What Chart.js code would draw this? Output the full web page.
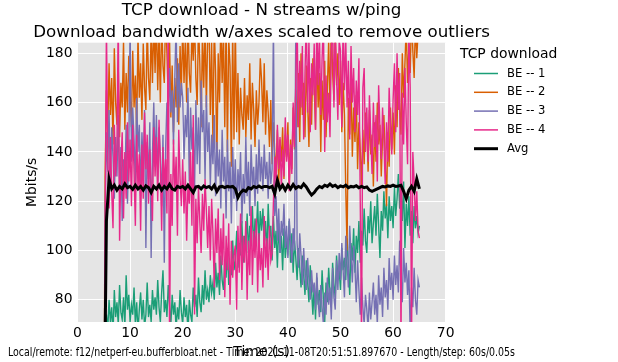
<!DOCTYPE html>
<html>
<head>
<meta charset="utf-8">
<script src="https://cdn.jsdelivr.net/npm/chart.js@4/dist/chart.umd.min.js"></script>
<style>
  body { margin: 0; background: #fff; }
</style>
</head>
<body>
<canvas id="tcpChart" width="618" height="362"></canvas>
<script>
const startTime = 5.0;
const streamStep = 0.25;
const avgStep = 0.5;

const seriesLabels = ["BE -- 1", "BE -- 2", "BE -- 3", "BE -- 4", "Avg"];
const seriesColors = ["#1b9e77", "#d95f02", "#7570b3", "#e7298a", "#000000"];

// Mbits/s per stream, one row = 5 s
const be1 = [
  0, 45, 74, 68, 80, 71, 77, 66, 84, 73, 79, 70, 86, 75, 72, 81, 69, 90, 76, 82,
  71, 78, 74, 85, 70, 79, 67, 76, 83, 72, 80, 69, 74, 87, 73, 78, 71, 84, 76, 81,
  74, 88, 77, 71, 83, 92, 75, 80, 73, 86, 78, 70, 82, 74, 79, 68, 77, 72, 84, 75,
  70, 81, 73, 78, 66, 80, 74, 71, 85, 77, 82, 73, 89, 79, 75, 86, 78, 92, 80, 84,
  79, 90, 83, 87, 80, 95, 85, 91, 82, 98, 88, 84, 96, 89, 101, 86, 94, 90, 104, 92,
  96, 108, 93, 103, 98, 112, 95, 106, 101, 115, 99, 110, 104, 118, 100, 113, 107, 120, 102, 116,
  108, 117, 103, 112, 98, 119, 105, 110, 96, 114, 101, 108, 93, 111, 99, 106, 92, 109, 97, 103,
  100, 112, 95, 107, 91, 104, 97, 88, 101, 93, 85, 98, 90, 82, 96, 87, 79, 94, 84, 74,
  86, 72, 89, 78, 84, 75, 92, 80, 71, 87, 79, 93, 83, 77, 95, 86, 81, 98, 88, 92,
  84, 101, 92, 97, 88, 105, 94, 82, 103, 96, 109, 91, 106, 99, 112, 95, 108, 102, 117, 104,
  99, 114, 107, 120, 103, 111, 118, 106, 123, 110, 97, 116, 108, 124, 113, 119, 105, 122, 112, 118,
  109, 126, 114, 121, 131, 117, 125, 112, 128, 101, 119, 110, 122, 106, 116, 103, 118, 109, 114, 107,
  110
];
const be2 = [
  0, 130, 165, 148, 176, 155, 170, 143, 182, 160, 151, 174, 146, 168, 158, 185, 149, 172, 156, 179,
  163, 150, 181, 158, 171, 147, 188, 162, 176, 153, 184, 166, 157, 192, 170, 161, 190, 168, 194, 172,
  196, 165, 189, 160, 194, 175, 168, 197, 180, 162, 186, 154, 175, 148, 170, 158, 178, 151, 183, 163,
  192, 168, 186, 160, 195, 172, 164, 190, 177, 194, 170, 159, 193, 176, 150, 188, 166, 193, 158, 187,
  194, 155, 185, 143, 192, 172, 136, 180, 160, 195, 168, 189, 150, 193, 140, 186, 175, 134, 190, 145,
  193, 148, 172, 143, 166, 155, 149, 170, 146, 163, 153, 176, 145, 168, 157, 142, 165, 151, 160, 178,
  169, 152, 176, 147, 165, 156, 142, 161, 135, 152, 140, 131, 149, 127, 145, 136, 150, 129, 147, 138,
  152, 126, 145, 133, 158, 141, 165, 150, 172, 144, 180, 155, 168, 146, 175, 160, 142, 170, 151, 178,
  166, 149, 182, 158, 172, 140, 169, 153, 177, 146, 165, 185, 157, 194, 172, 161, 189, 167, 180, 159,
  177, 148, 168, 155, 125, 100, 162, 147, 170, 138, 158, 144, 163, 133, 152, 141, 126, 149, 135, 156,
  150, 132, 157, 139, 147, 126, 152, 136, 160, 143, 151, 130, 146, 155, 137, 118, 148, 134, 158, 141,
  156, 139, 167, 150, 174, 158, 147, 180, 162, 176, 191, 168, 183, 172, 196, 181, 170, 193, 178, 189,
  186
];
const be3 = [
  0, 115, 148, 132, 157, 126, 150, 138, 121, 146, 130, 155, 124, 142, 112, 137, 128, 151, 119, 140,
  192, 136, 158, 145, 127, 162, 140, 151, 122, 148, 133, 157, 101, 144, 129, 152, 97, 139, 160, 134,
  155, 128, 150, 138, 118, 147, 95, 141, 160, 149, 174, 156, 165, 143, 170, 192, 152, 176, 158, 168,
  162, 137, 155, 146, 166, 128, 158, 141, 150, 124, 161, 135, 154, 131, 169, 148, 157, 129, 163, 140,
  152, 126, 147, 135, 155, 122, 144, 130, 141, 117, 149, 128, 138, 113, 145, 124, 136, 111, 142, 121,
  137, 116, 133, 124, 140, 111, 131, 119, 146, 122, 136, 114, 143, 126, 134, 118, 139, 123, 145, 128,
  138, 124, 143, 129, 136, 121, 140, 127, 133, 192, 114, 122, 104, 117, 99, 112, 106, 119, 101, 110,
  97, 113, 104, 95, 109, 100, 192, 103, 93, 107, 98, 86, 101, 90, 84, 97, 88, 80, 92, 83,
  87, 76, 91, 79, 73, 86, 77, 70, 83, 74, 89, 78, 85, 72, 93, 81, 76, 96, 84, 99,
  88, 103, 92, 81, 106, 95, 85, 110, 98, 87, 102, 93, 79, 96, 84, 74, 89, 77, 70, 82,
  76, 68, 83, 72, 79, 87, 74, 82, 70, 90, 78, 85, 73, 93, 81, 88, 76, 97, 84, 91,
  80, 98, 86, 94, 83, 104, 90, 79, 101, 87, 95, 82, 92, 66, 85, 77, 93, 80, 74, 88,
  85
];
const be4 = [
  0, 105, 192, 138, 117, 146, 124, 109, 151, 130, 142, 196, 104, 135, 148, 113, 140, 121, 152, 128,
  145, 118, 151, 132, 110, 147, 125, 139, 108, 143, 121, 156, 133, 147, 119, 141, 127, 112, 150, 130,
  146, 120, 153, 135, 108, 142, 126, 137, 115, 196, 62, 131, 110, 145, 124, 138, 106, 149, 129, 118,
  137, 115, 132, 104, 127, 119, 140, 110, 155, 74, 121, 103, 126, 112, 99, 123, 108, 129, 116, 101,
  118, 96, 121, 107, 85, 113, 99, 117, 88, 109, 94, 115, 81, 106, 92, 111, 78, 104, 89, 98,
  102, 76, 110, 91, 115, 84, 106, 95, 112, 80, 104, 90, 118, 86, 108, 97, 113, 83, 107, 92,
  101, 85, 114, 93, 105, 88, 110, 96, 99, 120, 138, 127, 151, 133, 146, 125, 141, 130, 154, 136,
  147, 124, 143, 131, 160, 142, 168, 194, 150, 177, 158, 183, 145, 172, 194, 156, 186, 148, 176, 163,
  184, 149, 195, 167, 188, 155, 178, 193, 140, 171, 152, 164, 146, 182, 194, 158, 190, 170, 153, 186,
  181, 150, 194, 165, 186, 158, 177, 145, 183, 160, 174, 148, 169, 155, 178, 121, 63, 166, 174, 140,
  158, 136, 163, 147, 131, 160, 142, 155, 128, 167, 149, 137, 158, 144, 127, 152, 136, 166, 150, 139,
  161, 176, 148, 180, 157, 172, 61, 164, 143, 174, 152, 135, 190, 166, 61, 140, 128, 112, 124, 108,
  105
];
// average of the streams, one row = 5 s
const avg = [
  15, 112, 129, 125, 126.5, 124.5, 126, 125, 127, 125.5,
  126, 124.8, 126.5, 125, 126, 124.5, 126.2, 125.5, 123.5, 126,
  125, 126.5, 124.5, 126, 125, 126.8, 125, 124.5, 126, 125.5,
  126, 125, 126.5, 125, 123.5, 125.8, 126, 125, 126.2, 125.5,
  126, 125, 126.5, 124, 125.8, 126, 125.5, 126, 125.8, 126,
  125, 121.5, 123.5, 124.5, 124, 125.5, 125, 126, 125.5, 126.2,
  125.5, 126, 126, 125.5, 126, 123, 128.5, 125, 126.5, 124.5,
  126.5, 125, 126.8, 125.2, 126, 125.5, 127, 125.8, 124, 122.5,
  123.5, 125, 126, 125.5, 126.5, 126, 127, 126, 126.5, 125.5,
  126.2, 125.8, 126.5, 125.5, 126, 125.8, 126.3, 125.5, 126, 125.5,
  125.8, 124.5, 124, 124.5, 125, 125.5, 126, 125.8, 126.2, 126,
  126.5, 126, 126.2, 126.5, 124, 121, 124.5, 126, 124, 129,
  125
];

const xTicks = [0, 10, 20, 30, 40, 50, 60, 70];
const yTicks = [80, 100, 120, 140, 160, 180];

const titleLines = ["TCP download - N streams w/ping", "Download bandwidth w/axes scaled to remove outliers"];
const legendTitle = "TCP download";
const footerText = "Local/remote: f12/netperf-eu.bufferbloat.net - Time: 2021-11-08T20:51:51.897670 - Length/step: 60s/0.05s";

const FONT = "DejaVu Sans";
Chart.defaults.font.family = FONT;
Chart.defaults.color = "#000";

function toPoints(values, step) {
  return values.map((v, i) => ({ x: startTime + i * step, y: v }));
}

// grey plot background
const plotBg = {
  id: "plotBg",
  beforeDraw(chart) {
    const a = chart.chartArea;
    const c = chart.ctx;
    c.save();
    c.fillStyle = "#e5e5e5";
    c.fillRect(a.left, a.top, a.right - a.left, a.bottom - a.top);
    c.restore();
  }
};

// two-line title centred over the plot area
const plotTitle = {
  id: "plotTitle",
  afterDraw(chart) {
    const a = chart.chartArea;
    const c = chart.ctx;
    c.save();
    c.fillStyle = "#000";
    c.textAlign = "center";
    c.textBaseline = "middle";
    c.font = "16.7px '" + FONT + "'";
    titleLines.forEach((line, i) => {
      c.fillText(line, (a.left + a.right) / 2, 10.75 + i * 21.75);
    });
    c.restore();
  }
};

// legend to the right of the plot, drawn by hand
const legendBox = {
  id: "legendBox",
  afterDraw(chart) {
    const c = chart.ctx;
    c.save();
    c.fillStyle = "#000";
    c.textBaseline = "middle";
    c.font = "13.9px '" + FONT + "'";
    c.fillText(legendTitle, 460, 54);
    c.font = "11.6px '" + FONT + "'";
    chart.data.datasets.forEach((ds, i) => {
      const y = 73.5 + i * 18.8;
      c.strokeStyle = ds.borderColor;
      c.lineWidth = i === 4 ? 3 : 1.5;
      c.beginPath();
      c.moveTo(474, y);
      c.lineTo(498, y);
      c.stroke();
      c.fillText(ds.label, 507, y);
    });
    c.restore();
  }
};

// footer line under the plot
const footer = {
  id: "footer",
  afterDraw(chart) {
    const c = chart.ctx;
    c.save();
    c.fillStyle = "#000";
    c.textBaseline = "middle";
    c.font = "11.6px '" + FONT + "'";
    c.fillText(footerText, 8, 353, 507);
    c.restore();
  }
};

const allSeries = [be1, be2, be3, be4, avg];
const datasets = allSeries.map((values, i) => ({
  label: seriesLabels[i],
  data: toPoints(values, i === 4 ? avgStep : streamStep),
  borderColor: seriesColors[i],
  borderWidth: i === 4 ? 3 : 1.4,
  pointRadius: 0,
  tension: 0,
  clip: 0,
  order: 5 - i
}));

const ctx = document.getElementById("tcpChart").getContext("2d");
const chart = new Chart(ctx, {
  type: "line",
  data: { datasets: datasets },
  options: {
    responsive: false,
    animation: false,
    layout: { padding: { left: 0, right: 172.3, top: 42.7, bottom: 0 } },
    plugins: {
      legend: { display: false },
      tooltip: { enabled: false },
      title: { display: false }
    },
    scales: {
      x: {
        type: "linear",
        min: 0,
        max: 70,
        afterBuildTicks: (axis) => { axis.ticks = xTicks.map((v) => ({ value: v })); },
        afterFit: (axis) => { axis.height = 40; },
        ticks: { font: { size: 13.9 }, padding: 3, maxRotation: 0 },
        grid: { color: "#ffffff", lineWidth: 1, drawTicks: false },
        border: { display: false },
        title: { display: true, text: "Time (s)", font: { size: 13.9 }, padding: { top: 0, bottom: 1 } }
      },
      y: {
        min: 71,
        max: 184.3,
        afterBuildTicks: (axis) => { axis.ticks = yTicks.map((v) => ({ value: v })); },
        afterFit: (axis) => { axis.width = 77.5; },
        ticks: { font: { size: 13.9 }, padding: 5 },
        grid: { color: "#ffffff", lineWidth: 1, drawTicks: false },
        border: { display: false },
        title: { display: true, text: "Mbits/s", font: { size: 13.9 }, padding: { top: 24.5, bottom: 0 } }
      }
    }
  },
  plugins: [plotBg, plotTitle, legendBox, footer]
});
</script>
</body>
</html>
